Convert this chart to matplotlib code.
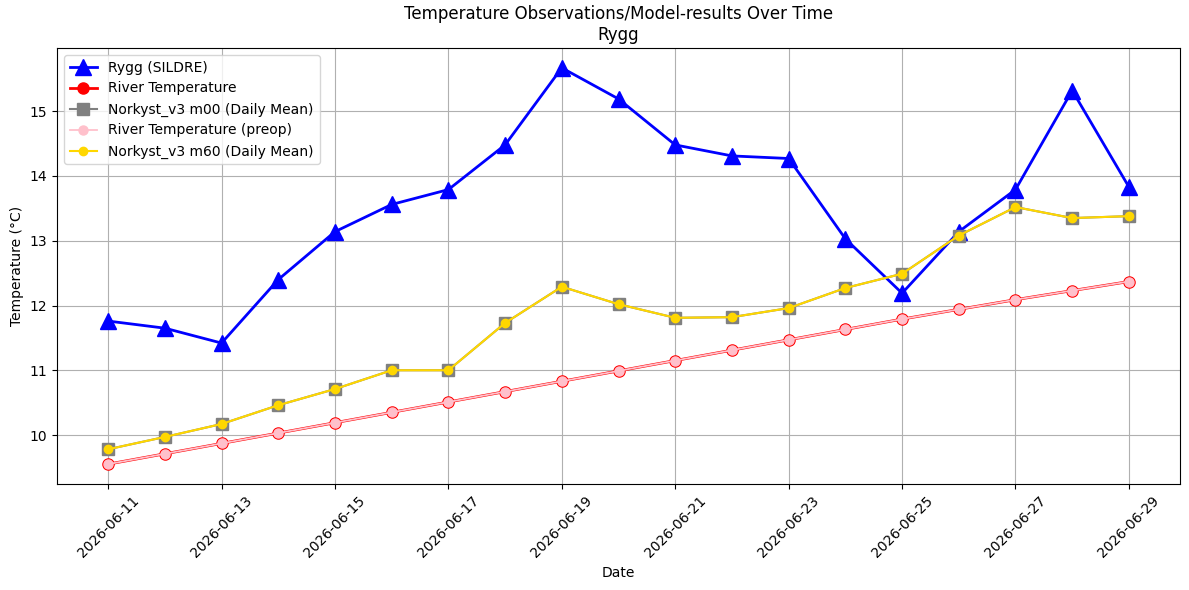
import pandas as pd
import matplotlib.pyplot as plt
import matplotlib.dates as mdates

# 날짜
dates = pd.date_range('2026-06-11', '2026-06-29', freq='D')

# 관측/모델 값
rygg_sildre = [11.76, 11.65, 11.42, 12.40, 13.14, 13.56, 13.79, 14.48, 15.67, 15.19,
               14.48, 14.31, 14.27, 13.03, 12.19, 13.14, 13.79, 15.32, 13.83]
river_temp = [9.55, 9.71, 9.87, 10.03, 10.19, 10.35, 10.51, 10.67, 10.83, 10.99,
              11.15, 11.31, 11.47, 11.63, 11.79, 11.94, 12.09, 12.23, 12.37]
river_temp_preop = river_temp
norkyst_m00 = [9.78, 9.97, 10.17, 10.46, 10.71, 11.00, 11.00, 11.73, 12.29, 12.02,
               11.81, 11.82, 11.96, 12.27, 12.49, 13.08, 13.52, 13.35, 13.38]
norkyst_m60 = norkyst_m00

fig, ax = plt.subplots(figsize=(11.89, 5.9))
plt.subplots_adjust(left=0.048, right=0.9924, top=0.9186, bottom=0.1797)

ax.plot(dates, rygg_sildre, color='blue', marker='^', markersize=12, linewidth=2,
        label='Rygg (SILDRE)')
ax.plot(dates, river_temp, color='red', marker='o', markersize=8, linewidth=2,
        label='River Temperature')
ax.plot(dates, norkyst_m00, color='gray', marker='s', markersize=8, linewidth=1.5,
        label='Norkyst_v3 m00 (Daily Mean)')
ax.plot(dates, river_temp_preop, color='pink', marker='o', markersize=6.5, linewidth=1.3,
        label='River Temperature (preop)')
ax.plot(dates, norkyst_m60, color='gold', marker='o', markersize=6, linewidth=1.5,
        label='Norkyst_v3 m60 (Daily Mean)')

ax.set_title('Temperature Observations/Model-results Over Time\nRygg')
ax.set_xlabel('Date')
ax.set_ylabel('Temperature (°C)')
# 2일 간격으로 날짜 표시
ax.set_xticks(dates[::2])
ax.xaxis.set_major_formatter(mdates.DateFormatter('%Y-%m-%d'))
ax.tick_params(axis='x', rotation=45)
ax.grid(True)
ax.legend(loc='upper left')

plt.savefig('out.png', dpi=100)
